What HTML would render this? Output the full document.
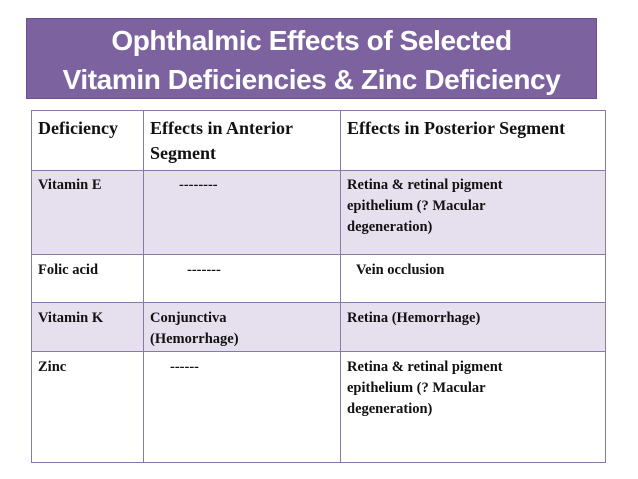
<!DOCTYPE html>
<html><head><meta charset="utf-8"><style>
body{margin:0;width:638px;height:479px;background:#fff;position:relative;overflow:hidden;font-family:"Liberation Serif",serif;}
.title{position:absolute;left:26px;top:18px;width:571px;height:81px;background:#7d62a0;border:1px solid #6a5090;box-sizing:border-box;color:#fff;font-family:"Liberation Sans",sans-serif;font-weight:bold;font-size:28px;text-align:center;line-height:39px;padding-top:2px;letter-spacing:-0.4px}
.cell{position:absolute;box-sizing:border-box;font-weight:bold;color:#111;padding:5px 7px;font-size:14.5px;line-height:21px}
.h{font-size:18px;line-height:25px;padding-top:6px}
.line{position:absolute;background:#8a78a8}
</style></head><body>
<div class="title">Ophthalmic Effects of Selected<br>Vitamin Deficiencies &amp; Zinc Deficiency</div>
<div>
<div style="position:absolute;left:31px;top:170px;width:575px;height:84px;background:#e6e0ee"></div>
<div style="position:absolute;left:31px;top:302px;width:575px;height:49px;background:#e6e0ee"></div>
<div class="line" style="left:31px;top:110px;width:575px;height:1px"></div>
<div class="line" style="left:31px;top:170px;width:575px;height:1px"></div>
<div class="line" style="left:31px;top:254px;width:575px;height:1px"></div>
<div class="line" style="left:31px;top:302px;width:575px;height:1px"></div>
<div class="line" style="left:31px;top:351px;width:575px;height:1px"></div>
<div class="line" style="left:31px;top:462px;width:575px;height:1px"></div>
<div class="line" style="left:31px;top:110px;width:1px;height:353px"></div>
<div class="line" style="left:143px;top:110px;width:1px;height:353px"></div>
<div class="line" style="left:340px;top:110px;width:1px;height:353px"></div>
<div class="line" style="left:605px;top:110px;width:1px;height:353px"></div>

<div class="cell h" style="left:31px;top:110px">Deficiency</div>
<div class="cell h" style="left:143px;top:110px">Effects in Anterior<br>Segment</div>
<div class="cell h" style="left:340px;top:110px">Effects in Posterior Segment</div>

<div class="cell" style="left:31px;top:170px">Vitamin E</div>
<div class="cell" style="left:172px;top:170px">--------</div>
<div class="cell" style="left:340px;top:170px">Retina &amp; retinal pigment<br>epithelium (? Macular<br>degeneration)</div>

<div class="cell" style="left:31px;top:255px">Folic acid</div>
<div class="cell" style="left:180px;top:255px">-------</div>
<div class="cell" style="left:349px;top:255px">Vein occlusion</div>

<div class="cell" style="left:31px;top:303px">Vitamin K</div>
<div class="cell" style="left:143px;top:303px">Conjunctiva<br>(Hemorrhage)</div>
<div class="cell" style="left:340px;top:303px">Retina (Hemorrhage)</div>

<div class="cell" style="left:31px;top:352px">Zinc</div>
<div class="cell" style="left:163px;top:352px">------</div>
<div class="cell" style="left:340px;top:352px">Retina &amp; retinal pigment<br>epithelium (? Macular<br>degeneration)</div>
</div>
</body></html>
